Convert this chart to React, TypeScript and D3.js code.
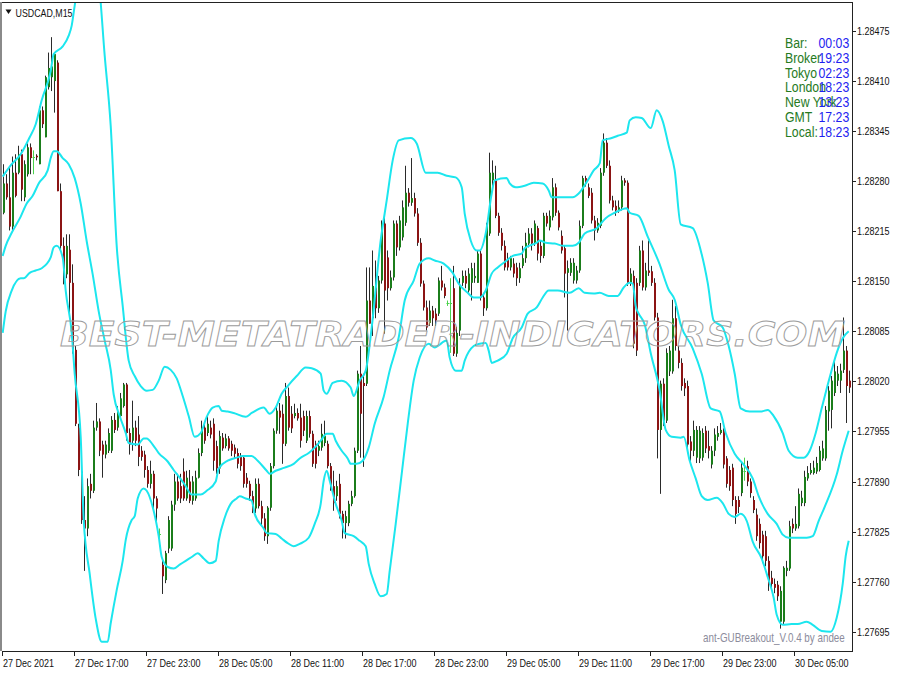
import React from 'react';
import * as d3 from 'd3';

// ---------- DATA (USDCAD, M15) ----------
const opens = [1.28239,1.28277,1.28259,1.28221,1.28291,1.28291,1.28315,1.28259,1.28289,1.28324,
1.28312,1.28313,1.28302,1.28372,1.28337,1.28402,1.28415,1.28410,1.28434,1.28267,
1.28196,1.28159,1.28191,1.28148,1.28061,1.27960,1.27903,1.27840,1.27829,1.27887,
1.27878,1.27960,1.27968,1.27938,1.27925,1.27930,1.27930,1.27970,1.27960,1.27975,
1.27988,1.28016,1.27953,1.27943,1.27960,1.27951,1.27930,1.27925,1.27905,1.27887,
1.27900,1.27868,1.27822,1.27782,1.27762,1.27803,1.27803,1.27860,1.27890,1.27884,
1.27903,1.27868,1.27890,1.27865,1.27868,1.27895,1.27927,1.27960,1.27953,1.27960,
1.27965,1.27936,1.27907,1.27947,1.27936,1.27946,1.27939,1.27934,1.27927,1.27923,
1.27921,1.27895,1.27887,1.27871,1.27855,1.27887,1.27858,1.27842,1.27819,1.27856,
1.27910,1.27956,1.27982,1.27978,1.27939,1.28001,1.27978,1.27975,1.27979,1.27973,
1.27975,1.27943,1.27975,1.27952,1.27939,1.27930,1.27934,1.27940,1.27939,1.27910,
1.27884,1.27871,1.27887,1.27848,1.27836,1.27836,1.27861,1.27871,1.27930,1.28030,
1.28018,1.28017,1.28125,1.28102,1.28142,1.28115,1.28151,1.28225,1.28181,1.28141,
1.28155,1.28225,1.28194,1.28207,1.28226,1.28265,1.28252,1.28258,1.28238,1.28200,
1.28147,1.28116,1.28096,1.28112,1.28108,1.28108,1.28151,1.28142,1.28122,1.28122,
1.28141,1.28056,1.28086,1.28148,1.28157,1.28138,1.28148,1.28154,1.28148,1.28186,
1.28129,1.28115,1.28212,1.28281,1.28281,1.28235,1.28213,1.28196,1.28180,1.28168,
1.28173,1.28168,1.28154,1.28170,1.28180,1.28199,1.28212,1.28200,1.28219,1.28196,
1.28183,1.28235,1.28220,1.28233,1.28272,1.28239,1.28209,1.28193,1.28161,1.28161,
1.28151,1.28151,1.28164,1.28222,1.28284,1.28272,1.28265,1.28229,1.28216,1.28222,
1.28291,1.28330,1.28300,1.28255,1.28248,1.28242,1.28246,1.28281,1.28278,1.28148,
1.28157,1.28148,1.28148,1.28190,1.28142,1.28164,1.28163,1.28148,1.28103,1.27957,
1.28017,1.27969,1.28033,1.28033,1.28102,1.28060,1.28044,1.28018,1.28014,1.27942,
1.27930,1.27921,1.27920,1.27921,1.27956,1.27936,1.27912,1.27930,1.27948,1.27953,
1.27956,1.27920,1.27905,1.27908,1.27866,1.27866,1.27875,1.27904,1.27910,1.27890,
1.27866,1.27847,1.27835,1.27821,1.27819,1.27787,1.27765,1.27757,1.27756,1.27708,
1.27708,1.27774,1.27777,1.27835,1.27829,1.27832,1.27862,1.27862,1.27894,1.27901,
1.27901,1.27903,1.27905,1.27920,1.27920,1.27981,1.27983,1.28005,1.28021,1.28021,
1.28035,1.28060,1.28021];

const highs = [1.28302,1.28289,1.28299,1.28312,1.28315,1.28326,1.28321,1.28307,1.28329,1.28329,
1.28320,1.28315,1.28377,1.28377,1.28417,1.28447,1.28467,1.28447,1.28437,1.28277,
1.28207,1.28211,1.28211,1.28172,1.28066,1.27965,1.27910,1.27871,1.27894,1.27900,
1.27969,1.27992,1.27972,1.27943,1.27943,1.27959,1.27975,1.27979,1.27988,1.28005,
1.28018,1.28018,1.27959,1.27995,1.27969,1.27975,1.27936,1.27930,1.27910,1.27917,
1.27904,1.27871,1.27829,1.27790,1.27800,1.27845,1.27865,1.27900,1.27900,1.27900,
1.27920,1.27904,1.27905,1.27897,1.27904,1.27933,1.27969,1.27966,1.27975,1.27969,
1.27972,1.27943,1.27956,1.27953,1.27952,1.27949,1.27943,1.27938,1.27933,1.27927,
1.27923,1.27901,1.27891,1.27878,1.27894,1.27894,1.27865,1.27849,1.27858,1.27914,
1.27959,1.27988,1.27992,1.27990,1.28018,1.28012,1.27988,1.27991,1.27985,1.27991,
1.27982,1.27982,1.27982,1.27956,1.27943,1.27943,1.27965,1.27969,1.27943,1.27914,
1.27904,1.27891,1.27900,1.27852,1.27852,1.27865,1.27878,1.27934,1.28034,1.28066,
1.28030,1.28168,1.28168,1.28190,1.28177,1.28157,1.28229,1.28232,1.28190,1.28164,
1.28229,1.28229,1.28235,1.28255,1.28300,1.28271,1.28310,1.28265,1.28245,1.28206,
1.28151,1.28125,1.28125,1.28118,1.28115,1.28155,1.28170,1.28147,1.28125,1.28154,
1.28170,1.28091,1.28154,1.28164,1.28164,1.28167,1.28174,1.28174,1.28190,1.28190,
1.28135,1.28226,1.28317,1.28307,1.28300,1.28239,1.28219,1.28203,1.28187,1.28183,
1.28180,1.28174,1.28174,1.28196,1.28213,1.28219,1.28219,1.28229,1.28222,1.28203,
1.28239,1.28239,1.28242,1.28284,1.28277,1.28242,1.28216,1.28196,1.28177,1.28180,
1.28180,1.28170,1.28229,1.28287,1.28287,1.28277,1.28271,1.28235,1.28232,1.28297,
1.28342,1.28336,1.28307,1.28261,1.28255,1.28255,1.28287,1.28284,1.28281,1.28167,
1.28164,1.28154,1.28196,1.28203,1.28174,1.28203,1.28170,1.28154,1.28109,1.28021,
1.28024,1.28063,1.28066,1.28126,1.28118,1.28066,1.28050,1.28024,1.28021,1.27949,
1.27969,1.27962,1.27962,1.27959,1.27962,1.27956,1.27936,1.27959,1.27962,1.27966,
1.27959,1.27923,1.27910,1.27913,1.27871,1.27871,1.27914,1.27921,1.27917,1.27894,
1.27871,1.27855,1.27842,1.27826,1.27826,1.27793,1.27774,1.27764,1.27761,1.27754,
1.27780,1.27787,1.27839,1.27842,1.27858,1.27881,1.27878,1.27904,1.27910,1.27914,
1.27917,1.27922,1.27936,1.27943,1.27988,1.28014,1.28027,1.28047,1.28040,1.28043,
1.28103,1.28066,1.28034];

const lows = [1.28237,1.28256,1.28216,1.28216,1.28259,1.28289,1.28254,1.28254,1.28286,1.28289,
1.28289,1.28307,1.28302,1.28349,1.28337,1.28399,1.28397,1.28369,1.28267,1.28191,
1.28146,1.28154,1.28105,1.28056,1.27962,1.27897,1.27835,1.27774,1.27819,1.27868,
1.27875,1.27956,1.27923,1.27895,1.27920,1.27927,1.27927,1.27953,1.27956,1.27972,
1.27986,1.27943,1.27925,1.27930,1.27936,1.27910,1.27917,1.27895,1.27882,1.27881,
1.27852,1.27835,1.27813,1.27744,1.27758,1.27797,1.27800,1.27852,1.27865,1.27862,
1.27865,1.27865,1.27862,1.27860,1.27865,1.27894,1.27923,1.27939,1.27949,1.27946,
1.27904,1.27900,1.27900,1.27930,1.27933,1.27930,1.27923,1.27920,1.27907,1.27904,
1.27882,1.27882,1.27865,1.27849,1.27849,1.27855,1.27832,1.27813,1.27809,1.27852,
1.27907,1.27952,1.27952,1.27913,1.27936,1.27956,1.27953,1.27972,1.27969,1.27934,
1.27949,1.27940,1.27947,1.27909,1.27907,1.27923,1.27930,1.27936,1.27907,1.27878,
1.27852,1.27865,1.27842,1.27816,1.27816,1.27832,1.27858,1.27869,1.27927,1.27921,
1.27909,1.28014,1.28095,1.28079,1.28102,1.28109,1.28147,1.28082,1.28125,1.28138,
1.28151,1.28183,1.28190,1.28203,1.28222,1.28247,1.28248,1.28234,1.28196,1.28143,
1.28112,1.28086,1.28092,1.28092,1.28092,1.28105,1.28138,1.28128,1.28118,1.28057,
1.28053,1.28052,1.28079,1.28144,1.28141,1.28135,1.28125,1.28148,1.28148,1.28125,
1.28105,1.28112,1.28209,1.28274,1.28232,1.28209,1.28190,1.28164,1.28164,1.28164,
1.28155,1.28144,1.28148,1.28167,1.28174,1.28194,1.28190,1.28196,1.28177,1.28174,
1.28180,1.28221,1.28216,1.28229,1.28235,1.28216,1.28186,1.28129,1.28086,1.28157,
1.28147,1.28147,1.28161,1.28219,1.28273,1.28258,1.28225,1.28203,1.28213,1.28219,
1.28287,1.28297,1.28251,1.28242,1.28235,1.28239,1.28242,1.28274,1.28144,1.28144,
1.28063,1.28053,1.28144,1.28138,1.28138,1.28157,1.28144,1.28099,1.27920,1.27874,
1.27962,1.27966,1.28027,1.28030,1.28060,1.28037,1.28008,1.28001,1.27933,1.27917,
1.27923,1.27914,1.27914,1.27917,1.27927,1.27920,1.27907,1.27923,1.27943,1.27951,
1.27907,1.27882,1.27878,1.27858,1.27835,1.27849,1.27871,1.27891,1.27884,1.27869,
1.27849,1.27813,1.27803,1.27784,1.27780,1.27748,1.27751,1.27745,1.27735,1.27699,
1.27705,1.27767,1.27774,1.27823,1.27826,1.27829,1.27858,1.27858,1.27891,1.27899,
1.27899,1.27900,1.27903,1.27917,1.27917,1.27956,1.27959,1.28001,1.28014,1.28005,
1.28031,1.27966,1.28005];

const closes = [1.28277,1.28259,1.28221,1.28291,1.28261,1.28315,1.28269,1.28302,1.28324,1.28310,
1.28312,1.28311,1.28372,1.28354,1.28415,1.28427,1.28429,1.28445,1.28267,1.28196,
1.28161,1.28196,1.28148,1.28061,1.27965,1.27905,1.27840,1.27829,1.27884,1.27878,
1.27960,1.27968,1.27930,1.27925,1.27938,1.27953,1.27970,1.27957,1.27981,1.27998,
1.28016,1.27953,1.27938,1.27960,1.27943,1.27922,1.27922,1.27905,1.27887,1.27900,
1.27868,1.27855,1.27822,1.27767,1.27797,1.27840,1.27860,1.27890,1.27868,1.27868,
1.27868,1.27895,1.27865,1.27890,1.27895,1.27927,1.27960,1.27943,1.27965,1.27951,
1.27917,1.27907,1.27949,1.27933,1.27946,1.27933,1.27930,1.27926,1.27913,1.27910,
1.27887,1.27887,1.27871,1.27852,1.27887,1.27858,1.27842,1.27819,1.27856,1.27910,
1.27956,1.27982,1.27973,1.27939,1.28001,1.27960,1.27959,1.27979,1.27972,1.27943,
1.27956,1.27975,1.27952,1.27913,1.27913,1.27936,1.27952,1.27949,1.27910,1.27884,
1.27862,1.27884,1.27848,1.27836,1.27845,1.27861,1.27871,1.27930,1.28030,1.27978,
1.28014,1.28125,1.28095,1.28144,1.28115,1.28151,1.28225,1.28138,1.28141,1.28155,
1.28225,1.28194,1.28229,1.28246,1.28265,1.28252,1.28258,1.28238,1.28200,1.28147,
1.28116,1.28090,1.28112,1.28102,1.28099,1.28151,1.28142,1.28131,1.28122,1.28122,
1.28056,1.28083,1.28144,1.28157,1.28147,1.28160,1.28167,1.28157,1.28186,1.28129,
1.28115,1.28222,1.28291,1.28291,1.28235,1.28213,1.28196,1.28168,1.28168,1.28180,
1.28160,1.28154,1.28167,1.28180,1.28200,1.28212,1.28199,1.28225,1.28186,1.28183,
1.28235,1.28225,1.28235,1.28272,1.28239,1.28220,1.28190,1.28160,1.28167,1.28174,
1.28174,1.28164,1.28222,1.28284,1.28277,1.28261,1.28229,1.28216,1.28226,1.28291,
1.28330,1.28300,1.28255,1.28246,1.28242,1.28246,1.28281,1.28278,1.28148,1.28160,
1.28069,1.28060,1.28190,1.28142,1.28164,1.28161,1.28148,1.28103,1.27957,1.28017,
1.27969,1.28057,1.28060,1.28102,1.28066,1.28044,1.28014,1.28011,1.27938,1.27930,
1.27957,1.27957,1.27956,1.27953,1.27933,1.27930,1.27930,1.27951,1.27953,1.27957,
1.27912,1.27887,1.27884,1.27866,1.27848,1.27857,1.27908,1.27904,1.27890,1.27875,
1.27853,1.27819,1.27810,1.27793,1.27787,1.27756,1.27757,1.27752,1.27741,1.27748,
1.27778,1.27778,1.27832,1.27829,1.27835,1.27874,1.27869,1.27896,1.27901,1.27905,
1.27908,1.27914,1.27930,1.27933,1.27983,1.28008,1.28021,1.28033,1.28030,1.28034,
1.28060,1.28014,1.28012];

// Bands: [bar index, price]
const upperBand: [number, number][] = [[0,1.28286],[3,1.28302],[6,1.28315],[9,1.28337],[11,1.28354],[13,1.28385],[16,1.28423],[17,1.28445],[20,1.28455],[22,1.28469],[23,1.28482],[24,1.28508],[26,1.28554],[28,1.28587],[30,1.28583],[32,1.28541],[34,1.28443],[36,1.28352],[38,1.28196],[40,1.28118],[42,1.28047],[44,1.28027],[46,1.28014],[48,1.28008],[50,1.28009],[52,1.28021],[54,1.28039],[56,1.28035],[58,1.28024],[60,1.28001],[62,1.27975],[64,1.27948],[66,1.27953],[68,1.27974],[70,1.27986],[72,1.27988],[73,1.27982],[75,1.27981],[77,1.27979],[81,1.27974],[83,1.27979],[87,1.27986],[89,1.27978],[91,1.27986],[93,1.28004],[95,1.28014],[98,1.28027],[101,1.28038],[103,1.28037],[106,1.28030],[107,1.28008],[108,1.28004],[110,1.28018],[113,1.28021],[116,1.28012],[117,1.28001],[119,1.28021],[121,1.28034],[123,1.28090],[126,1.28203],[128,1.28255],[130,1.28307],[132,1.28333],[136,1.28336],[138,1.28329],[141,1.28291],[145,1.28291],[148,1.28287],[151,1.28285],[153,1.28272],[154,1.28238],[156,1.28203],[158,1.28190],[159,1.28190],[161,1.28212],[163,1.28264],[164,1.28281],[168,1.28284],[169,1.28277],[171,1.28272],[174,1.28274],[177,1.28278],[180,1.28277],[182,1.28268],[183,1.28259],[186,1.28259],[190,1.28259],[192,1.28264],[195,1.28281],[197,1.28294],[199,1.28303],[200,1.28333],[203,1.28336],[205,1.28339],[208,1.28343],[209,1.28359],[211,1.28363],[213,1.28362],[216,1.28349],[218,1.28372],[220,1.28358],[222,1.28326],[224,1.28294],[226,1.28224],[230,1.28219],[233,1.28185],[235,1.28148],[237,1.28099],[240,1.28090],[242,1.28066],[244,1.28030],[246,1.27985],[249,1.27981],[251,1.27981],[253,1.27981],[255,1.27983],[257,1.27975],[260,1.27953],[262,1.27930],[265,1.27921],[267,1.27921],[269,1.27930],[271,1.27953],[273,1.27985],[276,1.28030],[278,1.28057],[280,1.28076],[282,1.28085]];

const middleBand: [number, number][] = [[0,1.28183],[1,1.28196],[3,1.28213],[6,1.28234],[8,1.28251],[10,1.28261],[12,1.28277],[15,1.28294],[16,1.28310],[17,1.28319],[18,1.28319],[20,1.28310],[22,1.28302],[24,1.28284],[26,1.28251],[28,1.28202],[30,1.28159],[32,1.28111],[34,1.28073],[36,1.28035],[37,1.28003],[39,1.27975],[41,1.27953],[42,1.27940],[45,1.27938],[47,1.27946],[48,1.27946],[50,1.27938],[52,1.27927],[55,1.27916],[57,1.27905],[59,1.27895],[61,1.27884],[63,1.27873],[66,1.27873],[68,1.27878],[71,1.27890],[72,1.27907],[75,1.27917],[78,1.27921],[80,1.27923],[83,1.27923],[85,1.27917],[88,1.27904],[89,1.27900],[91,1.27904],[94,1.27908],[97,1.27913],[99,1.27920],[102,1.27927],[104,1.27934],[106,1.27943],[108,1.27952],[110,1.27952],[111,1.27943],[113,1.27930],[115,1.27920],[116,1.27913],[118,1.27913],[120,1.27917],[122,1.27934],[124,1.27965],[127,1.28000],[129,1.28034],[132,1.28077],[134,1.28125],[137,1.28151],[139,1.28173],[142,1.28180],[144,1.28177],[147,1.28173],[150,1.28161],[152,1.28147],[155,1.28135],[157,1.28129],[159,1.28129],[161,1.28138],[163,1.28160],[165,1.28168],[168,1.28177],[170,1.28183],[173,1.28186],[174,1.28193],[178,1.28200],[179,1.28203],[181,1.28200],[184,1.28199],[187,1.28196],[190,1.28196],[192,1.28200],[194,1.28212],[198,1.28219],[201,1.28232],[204,1.28239],[208,1.28245],[209,1.28239],[212,1.28235],[215,1.28208],[219,1.28172],[222,1.28139],[224,1.28126],[226,1.28094],[230,1.28063],[233,1.28030],[236,1.27985],[239,1.27981],[241,1.27953],[244,1.27926],[247,1.27912],[250,1.27894],[252,1.27871],[255,1.27848],[258,1.27835],[260,1.27821],[262,1.27817],[264,1.27817],[268,1.27817],[270,1.27819],[272,1.27839],[274,1.27857],[278,1.27899],[280,1.27930],[282,1.27956]];

const lowerBand: [number, number][] = [[0,1.28083],[1,1.28111],[3,1.28138],[6,1.28154],[7,1.28154],[9,1.28161],[11,1.28164],[13,1.28167],[16,1.28181],[17,1.28194],[18,1.28196],[20,1.28181],[21,1.28138],[23,1.28083],[24,1.28030],[26,1.27948],[27,1.27840],[29,1.27770],[31,1.27712],[33,1.27682],[35,1.27682],[36,1.27706],[38,1.27749],[40,1.27787],[41,1.27814],[43,1.27840],[44,1.27845],[45,1.27868],[47,1.27881],[48,1.27878],[50,1.27857],[52,1.27819],[53,1.27792],[55,1.27779],[57,1.27777],[59,1.27782],[61,1.27787],[63,1.27792],[65,1.27797],[67,1.27790],[69,1.27784],[71,1.27787],[72,1.27813],[74,1.27843],[76,1.27861],[78,1.27868],[79,1.27871],[81,1.27868],[83,1.27865],[84,1.27848],[87,1.27829],[88,1.27823],[91,1.27822],[93,1.27816],[95,1.27810],[97,1.27806],[99,1.27809],[102,1.27817],[104,1.27835],[106,1.27861],[107,1.27891],[108,1.27904],[109,1.27891],[111,1.27861],[113,1.27839],[114,1.27823],[117,1.27819],[119,1.27813],[121,1.27806],[122,1.27783],[124,1.27757],[126,1.27741],[128,1.27744],[129,1.27774],[131,1.27835],[133,1.27900],[135,1.27965],[137,1.28021],[139,1.28051],[142,1.28069],[144,1.28064],[145,1.28066],[148,1.28073],[149,1.28051],[151,1.28034],[153,1.28034],[154,1.28047],[157,1.28066],[159,1.28069],[161,1.28070],[162,1.28060],[163,1.28044],[165,1.28047],[168,1.28056],[170,1.28076],[173,1.28090],[175,1.28108],[178,1.28116],[180,1.28129],[182,1.28138],[185,1.28138],[189,1.28135],[192,1.28141],[194,1.28135],[197,1.28134],[199,1.28135],[202,1.28131],[205,1.28131],[207,1.28142],[209,1.28148],[210,1.28147],[211,1.28118],[212,1.28108],[214,1.28094],[216,1.28057],[219,1.28008],[221,1.27957],[223,1.27948],[226,1.27947],[227,1.27948],[229,1.27917],[231,1.27894],[233,1.27871],[235,1.27866],[238,1.27869],[240,1.27862],[242,1.27848],[244,1.27844],[246,1.27848],[248,1.27839],[250,1.27812],[253,1.27790],[255,1.27766],[257,1.27739],[258,1.27717],[260,1.27704],[263,1.27705],[265,1.27705],[268,1.27708],[270,1.27704],[273,1.27696],[276,1.27695],[278,1.27713],[280,1.27757],[281,1.27793],[282,1.27813]];

const priceTicks = [1.28475,1.28410,1.28345,1.28280,1.28215,1.28150,1.28085,1.28020,1.27955,1.27890,1.27825,1.27760,1.27695];
const timeTickBars = [0,24,48,72,96,120,144,168,192,216,240,264];
const timeLabels = ['27 Dec 2021','27 Dec 17:00','27 Dec 23:00','28 Dec 05:00','28 Dec 11:00','28 Dec 17:00','28 Dec 23:00','29 Dec 05:00','29 Dec 11:00','29 Dec 17:00','29 Dec 23:00','30 Dec 05:00'];
const infoLabels = ['Bar:','Broker','Tokyo','London','New York','GMT','Local:'];
const infoTimes = ['00:03','19:23','02:23','18:23','13:23','17:23','18:23'];
const symbolTitle = 'USDCAD,M15';
const watermark = 'BEST-METATRADER-INDICATORS.COM';
const footer = 'ant-GUBreakout_V.0.4 by andee';

const SANS = "'Liberation Sans', Arial, sans-serif";
const SQUEEZE = 0.82; // narrow face emulated by horizontal scaling

function NText(props: { x: number; y: number; size: number; fill: string; children: string }) {
  const { x, y, size, fill, children } = props;
  return (
    <text transform={`translate(${x},${y}) scale(${SQUEEZE},1)`} fontFamily={SANS} fontSize={size} fill={fill}>
      {children}
    </text>
  );
}

export default function App() {
  const W = 900, H = 675;
  const PL = 2, PR = 852, PT = 2, PB = 651;
  const n = Math.min(opens.length, highs.length, lows.length, closes.length);
  const x = d3.scaleLinear().domain([0, 282]).range([2.7, 848.7]);
  const y = d3.scaleLinear().domain([1.27695, 1.28475]).range([631.7, 31]);
  const fmt = d3.format('.5f');
  const bandLine = d3.line<[number, number]>()
    .x(d => x(d[0]))
    .y(d => y(d[1]))
    .curve(d3.curveMonotoneX);

  const candles = d3.range(n).map(i => {
    const cx = Math.round(x(i));
    const o = opens[i], c = closes[i];
    const yo = y(o), yc = y(c);
    const top = Math.min(yo, yc);
    const h = Math.max(1, Math.abs(yo - yc));
    const doji = o === c;
    const up = c > o;
    return (
      <g key={i}>
        <line x1={cx + 0.5} x2={cx + 0.5} y1={y(highs[i])} y2={y(lows[i])}
          stroke={doji ? '#4cd24c' : '#2a2a2a'} strokeWidth={1} />
        {doji ? (
          <line x1={cx - 0.5} x2={cx + 2} y1={Math.round(yo) + 0.5} y2={Math.round(yo) + 0.5} stroke="#4cd24c" strokeWidth={1} />
        ) : (
          <rect x={cx} y={top} width={2} height={h} fill={up ? '#1b7d1b' : '#8b1414'} />
        )}
      </g>
    );
  });

  return (
    <svg width={W} height={H} style={{ position: 'absolute', left: 0, top: 0, background: '#ffffff' }}
      xmlns="http://www.w3.org/2000/svg">
      <defs>
        <clipPath id="plot">
          <rect x={PL} y={PT + 1} width={PR - PL} height={PB - PT - 1} />
        </clipPath>
      </defs>
      <rect x={0} y={0} width={W} height={H} fill="#ffffff" />

      <g clipPath="url(#plot)">
        {candles}
        {[upperBand, middleBand, lowerBand].map((b, k) => (
          <path key={k} d={bandLine(b) || ''} fill="none" stroke="#1ce6ee" strokeWidth={2} />
        ))}
        <text x={60} y={346} fontFamily="'DejaVu Sans', sans-serif" fontWeight="bold" fontStyle="italic"
          fontSize={34} textLength={785} lengthAdjust="spacingAndGlyphs"
          fill="none" stroke="#9c9c9c" strokeWidth={0.9}>{watermark}</text>
      </g>

      {/* frame */}
      <line x1={PL} x2={PR} y1={PT + 0.5} y2={PT + 0.5} stroke="#222" strokeWidth={1} />
      <line x1={1} x2={1} y1={PT} y2={PB} stroke="#8a8a8a" strokeWidth={2} />
      <line x1={PR + 0.5} x2={PR + 0.5} y1={PT} y2={PB + 1} stroke="#222" strokeWidth={1} />
      <line x1={PL} x2={PR + 1} y1={PB + 0.5} y2={PB + 0.5} stroke="#222" strokeWidth={1} />

      {/* price axis */}
      {priceTicks.map((p, k) => (
        <g key={k}>
          <line x1={PR} x2={PR + 4} y1={Math.round(y(p)) + 0.5} y2={Math.round(y(p)) + 0.5} stroke="#222" />
          <NText x={PR + 5} y={y(p) + 4} size={11} fill="#111">{fmt(p)}</NText>
        </g>
      ))}

      {/* time axis */}
      {timeTickBars.map((b, k) => {
        const tx = Math.round(x(b) - 0.7) + 0.5;
        return (
          <g key={k}>
            <line x1={tx} x2={tx} y1={PB} y2={PB + 5} stroke="#222" />
            <NText x={tx + 0.5} y={667} size={11} fill="#111">{timeLabels[k]}</NText>
          </g>
        );
      })}

      {/* title */}
      <polygon points="5.5,9.5 11.5,9.5 8.5,14" fill="#111" />
      <NText x={15.5} y={17} size={10.8} fill="#111">{symbolTitle}</NText>

      {/* info panel */}
      {infoLabels.map((t, k) => (
        <g key={k}>
          <NText x={785} y={48 + k * 14.8} size={15} fill="#267a1e">{t}</NText>
          <NText x={818.5} y={48 + k * 14.8} size={15} fill="#1e1ef0">{infoTimes[k]}</NText>
        </g>
      ))}

      {/* footer */}
      <NText x={703} y={642} size={12} fill="#8c8c9c">{footer}</NText>
    </svg>
  );
}
